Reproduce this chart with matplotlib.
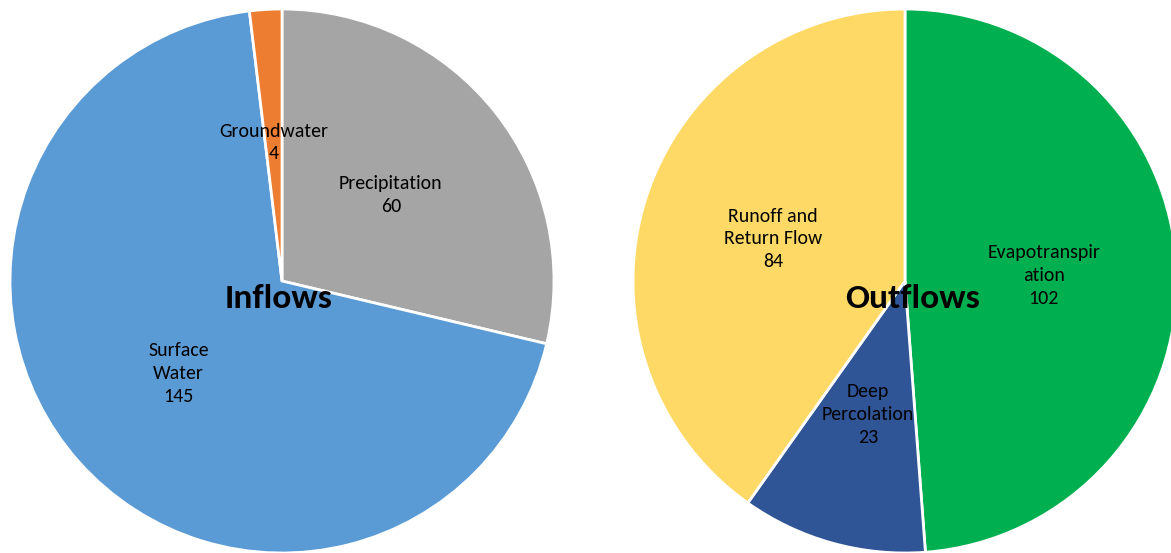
import matplotlib
matplotlib.use("Agg")
import matplotlib.pyplot as plt

plt.rcParams['font.family'] = ['Carlito', 'Lato', 'DejaVu Sans']

# Inflows (clockwise from top)
in_categories = ["Precipitation", "Surface\nWater", "Groundwater"]
in_values = [60, 145, 4]
in_colors = ["#A5A5A5", "#5B9BD5", "#ED7D31"]

# Outflows (clockwise from top)
out_categories = ["Evapotranspir\nation", "Deep\nPercolation", "Runoff and\nReturn Flow"]
out_values = [102, 23, 84]
out_colors = ["#00B050", "#2F5597", "#FFD966"]

fig = plt.figure(figsize=(11.71, 5.53), dpi=100)
ax = fig.add_axes([0, 0, 1, 1])

def draw(cats, vals, cols, center, title, tdx):
    labels = [f"{c}\n{v}" for c, v in zip(cats, vals)]
    wedges, texts = ax.pie(vals, labels=labels, colors=cols, startangle=90,
                           counterclock=False, center=center, radius=272,
                           labeldistance=0.51, frame=True,
                           wedgeprops=dict(edgecolor='white', linewidth=2.0),
                           textprops=dict(fontsize=14.3, color='#000000'))
    for t in texts:
        t.set_ha('center')
        t.set_va('center')
        t.set_linespacing(1.42)
    ax.text(center[0] + tdx, center[1] - 17, title, ha='center', va='center',
            fontsize=25.5, fontweight='bold', color='black')

draw(in_categories, in_values, in_colors, (282, 272), "Inflows", -3)
draw(out_categories, out_values, out_colors, (905, 272), "Outflows", 8)

ax.set_xlim(0, 1171)
ax.set_ylim(0, 553)
ax.set_aspect('equal')
ax.axis('off')
fig.savefig("out.png", dpi=100)
